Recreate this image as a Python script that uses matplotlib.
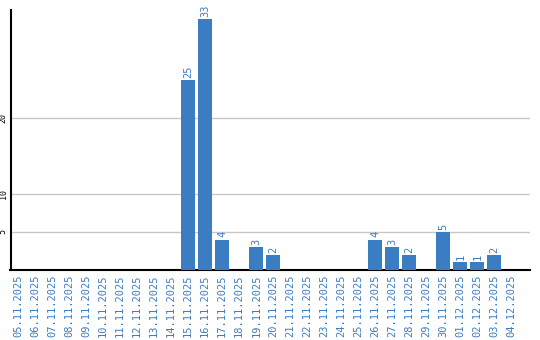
import matplotlib
matplotlib.use("Agg")
import matplotlib.pyplot as plt

dates = ["05.11.2025", "06.11.2025", "07.11.2025", "08.11.2025", "09.11.2025",
         "10.11.2025", "11.11.2025", "12.11.2025", "13.11.2025", "14.11.2025",
         "15.11.2025", "16.11.2025", "17.11.2025", "18.11.2025", "19.11.2025",
         "20.11.2025", "21.11.2025", "22.11.2025", "23.11.2025", "24.11.2025",
         "25.11.2025", "26.11.2025", "27.11.2025", "28.11.2025", "29.11.2025",
         "30.11.2025", "01.12.2025", "02.12.2025", "03.12.2025", "04.12.2025"]
counts = [0, 0, 0, 0, 0, 0, 0, 0, 0, 0,
          25, 33, 4, 0, 3, 2, 0, 0, 0, 0,
          0, 4, 3, 2, 0, 5, 1, 1, 2, 0]
yticks = [5, 10, 20]

blue = "#3b7dc3"

fig = plt.figure(figsize=(5.4, 3.4), dpi=100)
ax = fig.add_axes([10.5 / 540, 70 / 340, (530 - 10.5) / 540, 260 / 340])

x = list(range(len(dates)))
ax.bar(x, counts, width=0.82, color=blue, zorder=3)

for i, c in enumerate(counts):
    if c > 0:
        ax.text(i, c + 0.3, str(c), rotation=90, ha="center", va="bottom",
                color=blue, fontsize=7.5, family="DejaVu Sans Mono")

ax.set_xlim(-0.45, 30.1)
ax.set_ylim(0, 34.2)
ax.set_xticks(x)
ax.set_xticklabels(dates, rotation=90, color=blue, fontsize=7.5,
                   family="DejaVu Sans Mono")
ax.set_yticks(yticks)
ax.set_yticklabels([str(t) for t in yticks], rotation=90, fontsize=6,
                   family="DejaVu Sans Mono", va="center")
ax.tick_params(axis="both", length=0)
ax.tick_params(axis="x", pad=3)
ax.tick_params(axis="y", pad=2)

ax.grid(axis="y", color="#c8c8c8", linewidth=1, zorder=0)
for side in ["top", "right"]:
    ax.spines[side].set_visible(False)
for side in ["left", "bottom"]:
    ax.spines[side].set_linewidth(1.5)
    ax.spines[side].set_color("black")

fig.savefig("out.png", dpi=100)
